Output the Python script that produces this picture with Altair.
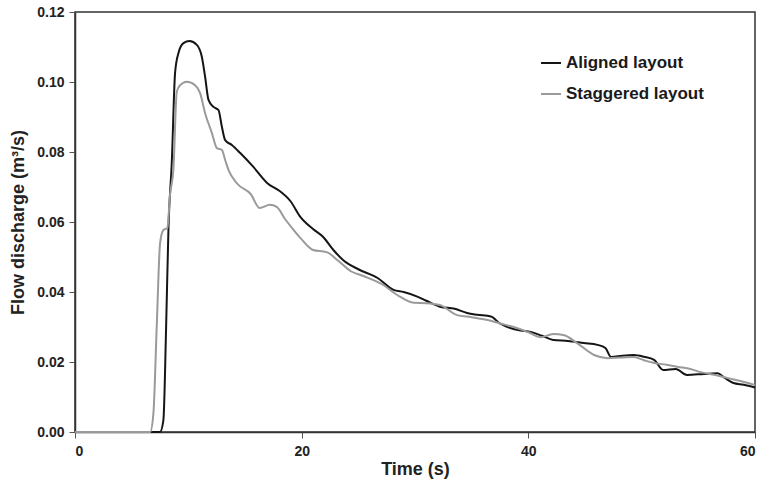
import altair as alt
import pandas as pd

aligned_t = [0, 7.5, 7.8, 8.04, 8.25, 8.54, 8.83, 9.13, 9.57, 10.1, 10.75, 11.19, 11.48, 11.78, 12.22,
             12.66, 12.96, 13.25, 13.84, 14.58, 15.72, 17.0, 18.0, 19.0, 19.9, 21.0, 21.9, 22.8, 23.7,
             25.0, 26.7, 28.1, 29.0, 30.2, 31.0, 32.2, 33.5, 34.6, 35.5, 36.7, 37.5, 38.4, 39.3, 40.2,
             41.2, 42.2, 43.5, 44.9, 46.1, 46.8, 47.3, 48.3, 49.3, 50.2, 51.1, 51.9, 53.0, 54.0, 55.5,
             56.7, 57.3, 58.1, 59.0, 60.0]
aligned_q = [0, 0, 0.0034, 0.030, 0.0586, 0.077, 0.1026, 0.1083, 0.1111, 0.1117, 0.1106, 0.1072, 0.1015,
             0.0949, 0.0929, 0.092, 0.0872, 0.0834, 0.082, 0.0797, 0.0758, 0.071, 0.069, 0.066, 0.0614,
             0.058, 0.0557, 0.052, 0.049, 0.0465, 0.044, 0.0406, 0.040, 0.0387, 0.0375, 0.0358, 0.0352,
             0.034, 0.0335, 0.033, 0.031, 0.0297, 0.029, 0.0286, 0.0275, 0.0263, 0.026, 0.0254, 0.0249,
             0.024, 0.0214, 0.0218, 0.022, 0.0215, 0.0206, 0.0177, 0.018, 0.0163, 0.0166, 0.0168, 0.0155,
             0.014, 0.0135, 0.0127]

staggered_t = [0, 6.63, 6.92, 7.21, 7.51, 7.8, 8.15, 8.39, 8.68, 8.98, 9.28, 9.87, 10.6, 11.04, 11.48,
               12.08, 12.52, 12.96, 13.25, 13.54, 14.3, 15.5, 16.3, 17.2, 17.8, 18.5, 19.3, 19.9, 21.0,
               22.2, 23.2, 24.3, 25.5, 27.2, 28.5, 29.9, 31.0, 32.2, 33.7, 35.0, 36.4, 37.5, 38.7, 40.0,
               41.1, 42.2, 43.1, 44.3, 45.8, 47.0, 48.2, 49.3, 50.2, 51.1, 52.2, 53.2, 54.3, 55.2, 56.5,
               57.6, 58.8, 60.0]
staggered_q = [0, 0, 0.0054, 0.030, 0.054, 0.0577, 0.0583, 0.068, 0.0749, 0.0972, 0.0991, 0.1001, 0.0991,
               0.0968, 0.0911, 0.0854, 0.0811, 0.0806, 0.0777, 0.0749, 0.071, 0.068, 0.064, 0.0649, 0.0643,
               0.061, 0.0577, 0.0554, 0.052, 0.0514, 0.049, 0.046, 0.0445, 0.042, 0.039, 0.0369, 0.0368,
               0.0363, 0.0334, 0.0328, 0.032, 0.031, 0.030, 0.0285, 0.0271, 0.028, 0.0277, 0.0254, 0.022,
               0.0211, 0.0213, 0.0214, 0.0205, 0.0197, 0.0192, 0.0186, 0.018, 0.0171, 0.0163, 0.0154,
               0.0145, 0.0134]

series_names = ["Aligned layout", "Staggered layout"]
series_colors = ["#151515", "#9a9a9a"]

df = pd.concat([
    pd.DataFrame({"t": aligned_t, "q": aligned_q, "series": series_names[0], "order": range(len(aligned_t))}),
    pd.DataFrame({"t": staggered_t, "q": staggered_q, "series": series_names[1], "order": range(len(staggered_t))}),
])

FONT = "Liberation Sans"

chart = alt.Chart(df).mark_line(strokeWidth=2, interpolate="monotone", strokeJoin="round").encode(
    x=alt.X("t:Q", scale=alt.Scale(domain=[0, 60], nice=False),
            axis=alt.Axis(title="Time (s)", values=[0, 20, 40, 60], format="d", grid=False)),
    y=alt.Y("q:Q", scale=alt.Scale(domain=[0, 0.12], nice=False),
            axis=alt.Axis(title="Flow discharge (m³/s)", values=[0, 0.02, 0.04, 0.06, 0.08, 0.10, 0.12],
                          format=".2f", grid=False)),
    color=alt.Color("series:N", sort=series_names,
                    scale=alt.Scale(domain=series_names, range=series_colors),
                    legend=alt.Legend(title=None, orient="none", legendX=465, legendY=40,
                                      symbolType="stroke", symbolSize=400, symbolStrokeWidth=2,
                                      labelFont=FONT, labelFontSize=17, labelFontWeight="bold",
                                      labelColor="#1a1a1a", rowPadding=12, labelOffset=4)),
    detail="series:N",
    order="order:Q",
).properties(
    width=680, height=420,
    autosize=alt.AutoSizeParams(type="none"),
    padding={"left": 75, "top": 12, "right": 8, "bottom": 50},
).configure_view(
    stroke="#333333", strokeWidth=1.5
).configure_axis(
    domainColor="#333333", domainWidth=1.5, tickColor="#555555", tickSize=6,
    labelFont=FONT, labelFontSize=14, labelFontWeight="bold", labelColor="#222222",
    titleFont=FONT, titleFontSize=18, titleFontWeight="bold", titleColor="#222222",
).configure_axisX(
    labelPadding=6, titlePadding=2
).configure_axisY(
    labelPadding=5, titlePadding=9
)

chart.save("out.html", embed_options={"renderer": "svg", "actions": False})
